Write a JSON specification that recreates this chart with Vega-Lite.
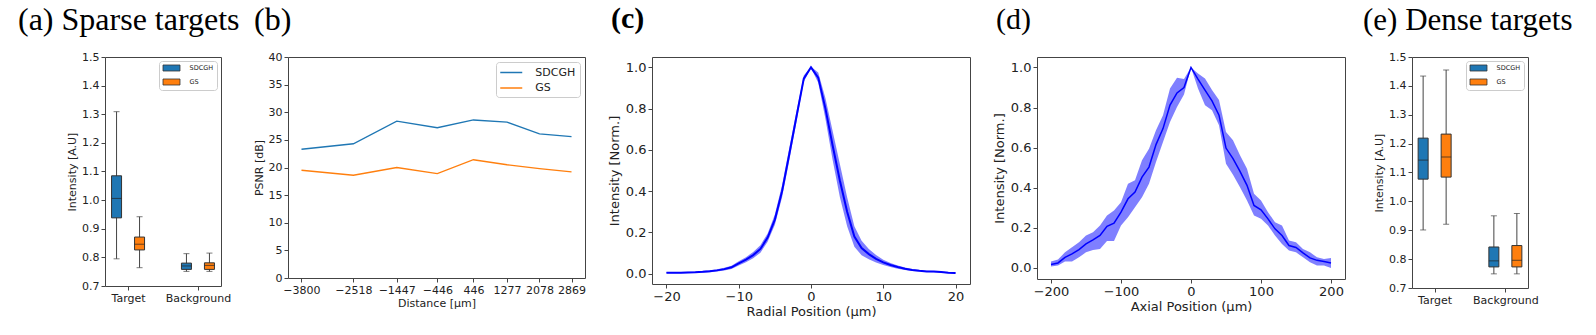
{
  "$schema": "https://vega.github.io/schema/vega-lite/v6.json",
  "padding": {"left": 17, "top": 3, "right": 0, "bottom": 0},
  "bounds": "flush",
  "spacing": 67,
  "resolve": {"scale": {"color": "independent", "x": "independent", "y": "independent"}, "legend": {"color": "independent"}},
  "config": {
    "font": "DejaVu Sans",
    "view": {"stroke": "#444", "strokeWidth": 1},
    "axis": {"domain": false, "grid": false, "tickColor": "#444", "tickSize": 4, "labelColor": "#222", "titleColor": "#222", "titleFontWeight": "normal", "labelPadding": 2, "labelFont": "DejaVu Sans", "titleFont": "DejaVu Sans", "labelOverlap": false},
    "title": {"font": "Liberation Serif", "fontWeight": "normal", "color": "#000", "anchor": "start", "frame": "group"}
  },
  "hconcat": [
    {
      "width": 116, "height": 229,
      "title": {"text": "(a) Sparse targets", "fontSize": 32, "dx": -87, "offset": 14},
      "data": {"values": [
        {"group": "Target", "method": "SDCGH", "lower": 0.795, "q1": 0.938, "median": 1.006, "q3": 1.085, "upper": 1.309},
        {"group": "Target", "method": "GS", "lower": 0.764, "q1": 0.826, "median": 0.846, "q3": 0.871, "upper": 0.942},
        {"group": "Background", "method": "SDCGH", "lower": 0.751, "q1": 0.758, "median": 0.770, "q3": 0.780, "upper": 0.813},
        {"group": "Background", "method": "GS", "lower": 0.751, "q1": 0.758, "median": 0.772, "q3": 0.781, "upper": 0.815}
      ]},
      "encoding": {
        "x": {"field": "group", "type": "nominal", "sort": ["Target", "Background"], "scale": {"type": "point", "padding": 0.33}, "axis": {"title": null, "labelAngle": 0, "labelFontSize": 11}},
        "xOffset": {"field": "method", "type": "nominal", "sort": ["SDCGH", "GS"], "scale": {"type": "point", "range": [-11.5, 11.5], "padding": 0}}
      },
      "layer": [
        {"mark": {"type": "rule", "color": "#444", "strokeWidth": 1},
         "encoding": {"y": {"field": "lower", "type": "quantitative", "title": "Intensity [A.U]", "scale": {"domain": [0.7, 1.5], "nice": false, "zero": false}, "axis": {"values": [0.7, 0.8, 0.9, 1.0, 1.1, 1.2, 1.3, 1.4, 1.5], "format": ".1f", "labelFontSize": 11, "titleFontSize": 11, "titlePadding": 4, "labelOverlap": false}}, "y2": {"field": "upper"}}},
        {"mark": {"type": "tick", "color": "#444", "size": 6, "thickness": 1},
         "encoding": {"y": {"field": "lower", "type": "quantitative", "title": "Intensity [A.U]", "axis": {"values": [0.7, 0.8, 0.9, 1.0, 1.1, 1.2, 1.3, 1.4, 1.5], "format": ".1f", "labelFontSize": 11, "titleFontSize": 11, "titlePadding": 4, "labelOverlap": false}}}},
        {"mark": {"type": "tick", "color": "#444", "size": 6, "thickness": 1},
         "encoding": {"y": {"field": "upper", "type": "quantitative", "title": "Intensity [A.U]", "axis": {"values": [0.7, 0.8, 0.9, 1.0, 1.1, 1.2, 1.3, 1.4, 1.5], "format": ".1f", "labelFontSize": 11, "titleFontSize": 11, "titlePadding": 4, "labelOverlap": false}}}},
        {"mark": {"type": "bar", "width": 10, "stroke": "#333", "strokeWidth": 1},
         "encoding": {"y": {"field": "q1", "type": "quantitative", "title": "Intensity [A.U]", "axis": {"values": [0.7, 0.8, 0.9, 1.0, 1.1, 1.2, 1.3, 1.4, 1.5], "format": ".1f", "labelFontSize": 11, "titleFontSize": 11, "titlePadding": 4, "labelOverlap": false}}, "y2": {"field": "q3"},
           "color": {"field": "method", "type": "nominal", "scale": {"domain": ["SDCGH", "GS"], "range": ["#1f77b4", "#ff7f0e"]},
             "legend": {"title": null, "orient": "top-right", "offset": 4, "padding": 3, "fillColor": "white", "strokeColor": "#ccc", "cornerRadius": 3, "symbolType": "M-2.4,-0.85L2.4,-0.85L2.4,0.85L-2.4,0.85Z", "symbolSize": 50, "symbolStrokeColor": "#333", "symbolStrokeWidth": 0.8, "symbolOpacity": 1, "symbolOffset": 5.5, "labelOffset": 14, "labelFontSize": 6.5, "labelColor": "#222", "rowPadding": 4}}}},
        {"mark": {"type": "tick", "color": "#222", "size": 10, "thickness": 1},
         "encoding": {"y": {"field": "median", "type": "quantitative", "title": "Intensity [A.U]", "axis": {"values": [0.7, 0.8, 0.9, 1.0, 1.1, 1.2, 1.3, 1.4, 1.5], "format": ".1f", "labelFontSize": 11, "titleFontSize": 11, "titlePadding": 4, "labelOverlap": false}}}}
      ]
    },
    {
      "width": 297, "height": 221,
      "title": {"text": "(b)", "fontSize": 32, "dx": -34, "offset": 14},
      "data": {"values": [
        {"d": -3800, "method": "SDCGH", "psnr": 23.3}, {"d": -2518, "method": "SDCGH", "psnr": 24.3},
        {"d": -1447, "method": "SDCGH", "psnr": 28.4}, {"d": -446, "method": "SDCGH", "psnr": 27.2},
        {"d": 446, "method": "SDCGH", "psnr": 28.6}, {"d": 1277, "method": "SDCGH", "psnr": 28.2},
        {"d": 2078, "method": "SDCGH", "psnr": 26.1}, {"d": 2869, "method": "SDCGH", "psnr": 25.6},
        {"d": -3800, "method": "GS", "psnr": 19.5}, {"d": -2518, "method": "GS", "psnr": 18.6},
        {"d": -1447, "method": "GS", "psnr": 20.0}, {"d": -446, "method": "GS", "psnr": 18.9},
        {"d": 446, "method": "GS", "psnr": 21.4}, {"d": 1277, "method": "GS", "psnr": 20.5},
        {"d": 2078, "method": "GS", "psnr": 19.8}, {"d": 2869, "method": "GS", "psnr": 19.2}
      ]},
      "mark": {"type": "line", "strokeWidth": 1.3},
      "encoding": {
        "x": {"field": "d", "type": "quantitative", "scale": {"domain": [-4133, 3202], "nice": false, "zero": false},
          "axis": {"values": [-3800, -2518, -1447, -446, 446, 1277, 2078, 2869], "format": "d", "title": "Distance [µm]", "labelFontSize": 11, "titleFontSize": 11, "titlePadding": 2, "labelFlush": false, "labelOverlap": false}},
        "y": {"field": "psnr", "type": "quantitative", "scale": {"domain": [0, 40], "nice": false},
          "axis": {"values": [0, 5, 10, 15, 20, 25, 30, 35, 40], "title": "PSNR [dB]", "labelFontSize": 11, "titleFontSize": 11, "titlePadding": 4}},
        "color": {"field": "method", "type": "nominal", "sort": ["SDCGH", "GS"], "scale": {"domain": ["SDCGH", "GS"], "range": ["#1f77b4", "#ff7f0e"]},
          "legend": {"title": null, "orient": "top-right", "offset": 5, "padding": 4, "fillColor": "white", "strokeColor": "#ccc", "cornerRadius": 3, "symbolType": "M-2,0L2,0", "symbolSize": 121, "symbolStrokeWidth": 1.5, "symbolOffset": 4.75, "labelOffset": 17.5, "labelFontSize": 11, "labelColor": "#222", "rowPadding": 3.5}}
      }
    },
    {
      "width": 318, "height": 227,
      "title": {"text": "(c)", "fontSize": 30, "fontWeight": "bold", "dx": -41, "offset": 23.5},
      "data": {"values": [
        {"r": -20, "m": 0.005, "lo": 0.002, "hi": 0.008}, {"r": -19, "m": 0.005, "lo": 0.002, "hi": 0.008},
        {"r": -18, "m": 0.005, "lo": 0.002, "hi": 0.008}, {"r": -17, "m": 0.006, "lo": 0.003, "hi": 0.009},
        {"r": -16, "m": 0.007, "lo": 0.004, "hi": 0.010}, {"r": -15, "m": 0.009, "lo": 0.005, "hi": 0.013},
        {"r": -14, "m": 0.012, "lo": 0.007, "hi": 0.017}, {"r": -13, "m": 0.016, "lo": 0.010, "hi": 0.022},
        {"r": -12, "m": 0.022, "lo": 0.015, "hi": 0.029}, {"r": -11, "m": 0.031, "lo": 0.023, "hi": 0.039},
        {"r": -10, "m": 0.050, "lo": 0.040, "hi": 0.060}, {"r": -9, "m": 0.068, "lo": 0.056, "hi": 0.080},
        {"r": -8, "m": 0.090, "lo": 0.075, "hi": 0.105}, {"r": -7, "m": 0.120, "lo": 0.102, "hi": 0.138},
        {"r": -6, "m": 0.175, "lo": 0.155, "hi": 0.195}, {"r": -5, "m": 0.262, "lo": 0.237, "hi": 0.287},
        {"r": -4, "m": 0.400, "lo": 0.370, "hi": 0.430}, {"r": -3, "m": 0.580, "lo": 0.550, "hi": 0.610},
        {"r": -2, "m": 0.763, "lo": 0.738, "hi": 0.788}, {"r": -1, "m": 0.945, "lo": 0.930, "hi": 0.960},
        {"r": 0, "m": 1.000, "lo": 0.997, "hi": 1.003}, {"r": 1, "m": 0.950, "lo": 0.925, "hi": 0.975},
        {"r": 2, "m": 0.800, "lo": 0.750, "hi": 0.850}, {"r": 3, "m": 0.620, "lo": 0.550, "hi": 0.690},
        {"r": 4, "m": 0.450, "lo": 0.370, "hi": 0.530}, {"r": 5, "m": 0.300, "lo": 0.230, "hi": 0.370},
        {"r": 6, "m": 0.180, "lo": 0.130, "hi": 0.230}, {"r": 7, "m": 0.124, "lo": 0.089, "hi": 0.159},
        {"r": 8, "m": 0.095, "lo": 0.070, "hi": 0.120}, {"r": 9, "m": 0.072, "lo": 0.054, "hi": 0.090},
        {"r": 10, "m": 0.055, "lo": 0.042, "hi": 0.068}, {"r": 11, "m": 0.042, "lo": 0.032, "hi": 0.052},
        {"r": 12, "m": 0.032, "lo": 0.024, "hi": 0.040}, {"r": 13, "m": 0.024, "lo": 0.018, "hi": 0.030},
        {"r": 14, "m": 0.018, "lo": 0.013, "hi": 0.023}, {"r": 15, "m": 0.014, "lo": 0.010, "hi": 0.018},
        {"r": 16, "m": 0.011, "lo": 0.008, "hi": 0.014}, {"r": 17, "m": 0.010, "lo": 0.007, "hi": 0.013},
        {"r": 18, "m": 0.008, "lo": 0.005, "hi": 0.011}, {"r": 19, "m": 0.005, "lo": 0.002, "hi": 0.008},
        {"r": 20, "m": 0.003, "lo": 0.000, "hi": 0.006}
      ]},
      "encoding": {
        "x": {"field": "r", "type": "quantitative", "scale": {"domain": [-22, 22], "nice": false, "zero": false},
          "axis": {"values": [-20, -10, 0, 10, 20], "title": "Radial Position (µm)", "labelFontSize": 13, "titleFontSize": 13, "titlePadding": 2, "labelFlush": false}}
      },
      "layer": [
        {"mark": {"type": "area", "color": "#0000ff", "opacity": 0.5},
         "encoding": {"y": {"field": "lo", "type": "quantitative", "title": "Intensity [Norm.]", "scale": {"domain": [-0.05, 1.05], "nice": false, "zero": false},
           "axis": {"values": [0, 0.2, 0.4, 0.6, 0.8, 1.0], "format": ".1f", "labelFontSize": 13, "titleFontSize": 13, "titlePadding": 4}}, "y2": {"field": "hi"}}},
        {"mark": {"type": "line", "color": "#0000ff", "strokeWidth": 2},
         "encoding": {"y": {"field": "m", "type": "quantitative", "title": "Intensity [Norm.]", "axis": {"values": [0, 0.2, 0.4, 0.6, 0.8, 1.0], "format": ".1f", "labelFontSize": 13, "titleFontSize": 13, "titlePadding": 4}}}}
      ]
    },
    {
      "width": 308, "height": 222,
      "title": {"text": "(d)", "fontSize": 30, "dx": -41, "offset": 22.5},
      "data": {"values": [
        {"a": -200, "m": 0.017, "lo": 0.007, "hi": 0.032}, {"a": -190, "m": 0.025, "lo": 0.012, "hi": 0.042},
        {"a": -180, "m": 0.053, "lo": 0.032, "hi": 0.078}, {"a": -170, "m": 0.070, "lo": 0.032, "hi": 0.103},
        {"a": -160, "m": 0.092, "lo": 0.053, "hi": 0.128}, {"a": -150, "m": 0.120, "lo": 0.078, "hi": 0.162},
        {"a": -140, "m": 0.140, "lo": 0.090, "hi": 0.178}, {"a": -130, "m": 0.162, "lo": 0.095, "hi": 0.212},
        {"a": -120, "m": 0.208, "lo": 0.135, "hi": 0.262}, {"a": -110, "m": 0.223, "lo": 0.135, "hi": 0.287},
        {"a": -100, "m": 0.278, "lo": 0.212, "hi": 0.328}, {"a": -90, "m": 0.345, "lo": 0.253, "hi": 0.420},
        {"a": -80, "m": 0.378, "lo": 0.303, "hi": 0.437}, {"a": -70, "m": 0.453, "lo": 0.353, "hi": 0.537},
        {"a": -60, "m": 0.503, "lo": 0.420, "hi": 0.595}, {"a": -50, "m": 0.615, "lo": 0.528, "hi": 0.687},
        {"a": -40, "m": 0.695, "lo": 0.628, "hi": 0.762}, {"a": -30, "m": 0.812, "lo": 0.728, "hi": 0.895},
        {"a": -20, "m": 0.873, "lo": 0.803, "hi": 0.948}, {"a": -10, "m": 0.900, "lo": 0.865, "hi": 0.942},
        {"a": 0, "m": 1.000, "lo": 1.000, "hi": 1.000}, {"a": 10, "m": 0.942, "lo": 0.895, "hi": 0.970},
        {"a": 20, "m": 0.887, "lo": 0.812, "hi": 0.945}, {"a": 30, "m": 0.833, "lo": 0.787, "hi": 0.887},
        {"a": 40, "m": 0.762, "lo": 0.712, "hi": 0.837}, {"a": 50, "m": 0.598, "lo": 0.520, "hi": 0.678},
        {"a": 60, "m": 0.545, "lo": 0.465, "hi": 0.637}, {"a": 70, "m": 0.482, "lo": 0.403, "hi": 0.562},
        {"a": 80, "m": 0.412, "lo": 0.337, "hi": 0.495}, {"a": 90, "m": 0.312, "lo": 0.262, "hi": 0.370},
        {"a": 100, "m": 0.290, "lo": 0.245, "hi": 0.337}, {"a": 110, "m": 0.245, "lo": 0.212, "hi": 0.278},
        {"a": 120, "m": 0.195, "lo": 0.162, "hi": 0.228}, {"a": 130, "m": 0.162, "lo": 0.120, "hi": 0.212},
        {"a": 140, "m": 0.112, "lo": 0.087, "hi": 0.137}, {"a": 150, "m": 0.102, "lo": 0.078, "hi": 0.128},
        {"a": 160, "m": 0.075, "lo": 0.053, "hi": 0.095}, {"a": 170, "m": 0.050, "lo": 0.028, "hi": 0.078},
        {"a": 180, "m": 0.038, "lo": 0.012, "hi": 0.053}, {"a": 190, "m": 0.032, "lo": 0.012, "hi": 0.045},
        {"a": 200, "m": 0.025, "lo": 0.000, "hi": 0.050}
      ]},
      "encoding": {
        "x": {"field": "a", "type": "quantitative", "scale": {"domain": [-220, 220], "nice": false, "zero": false},
          "axis": {"values": [-200, -100, 0, 100, 200], "title": "Axial Position (µm)", "labelFontSize": 13, "titleFontSize": 13, "titlePadding": 2, "labelFlush": false}}
      },
      "layer": [
        {"mark": {"type": "area", "color": "#0000ff", "opacity": 0.5},
         "encoding": {"y": {"field": "lo", "type": "quantitative", "title": "Intensity [Norm.]", "scale": {"domain": [-0.055, 1.052], "nice": false, "zero": false},
           "axis": {"values": [0, 0.2, 0.4, 0.6, 0.8, 1.0], "format": ".1f", "labelFontSize": 13, "titleFontSize": 13, "titlePadding": 4}}, "y2": {"field": "hi"}}},
        {"mark": {"type": "line", "color": "#0000ff", "strokeWidth": 1.5},
         "encoding": {"y": {"field": "m", "type": "quantitative", "title": "Intensity [Norm.]", "axis": {"values": [0, 0.2, 0.4, 0.6, 0.8, 1.0], "format": ".1f", "labelFontSize": 13, "titleFontSize": 13, "titlePadding": 4}}}}
      ]
    },
    {
      "width": 116, "height": 231,
      "title": {"text": "(e) Dense targets", "fontSize": 31, "dx": -49, "offset": 14},
      "data": {"values": [
        {"group": "Target", "method": "SDCGH", "lower": 0.901, "q1": 1.077, "median": 1.143, "q3": 1.219, "upper": 1.434},
        {"group": "Target", "method": "GS", "lower": 0.921, "q1": 1.084, "median": 1.154, "q3": 1.233, "upper": 1.455},
        {"group": "Background", "method": "SDCGH", "lower": 0.749, "q1": 0.773, "median": 0.794, "q3": 0.842, "upper": 0.950},
        {"group": "Background", "method": "GS", "lower": 0.749, "q1": 0.773, "median": 0.796, "q3": 0.847, "upper": 0.958}
      ]},
      "encoding": {
        "x": {"field": "group", "type": "nominal", "sort": ["Target", "Background"], "scale": {"type": "point", "padding": 0.32}, "axis": {"title": null, "labelAngle": 0, "labelFontSize": 11}},
        "xOffset": {"field": "method", "type": "nominal", "sort": ["SDCGH", "GS"], "scale": {"type": "point", "range": [-11.5, 11.5], "padding": 0}}
      },
      "layer": [
        {"mark": {"type": "rule", "color": "#444", "strokeWidth": 1},
         "encoding": {"y": {"field": "lower", "type": "quantitative", "title": "Intensity [A.U]", "scale": {"domain": [0.7, 1.5], "nice": false, "zero": false}, "axis": {"values": [0.7, 0.8, 0.9, 1.0, 1.1, 1.2, 1.3, 1.4, 1.5], "format": ".1f", "labelFontSize": 11, "titleFontSize": 11, "titlePadding": 4, "labelOverlap": false}}, "y2": {"field": "upper"}}},
        {"mark": {"type": "tick", "color": "#444", "size": 6, "thickness": 1},
         "encoding": {"y": {"field": "lower", "type": "quantitative", "title": "Intensity [A.U]", "axis": {"values": [0.7, 0.8, 0.9, 1.0, 1.1, 1.2, 1.3, 1.4, 1.5], "format": ".1f", "labelFontSize": 11, "titleFontSize": 11, "titlePadding": 4, "labelOverlap": false}}}},
        {"mark": {"type": "tick", "color": "#444", "size": 6, "thickness": 1},
         "encoding": {"y": {"field": "upper", "type": "quantitative", "title": "Intensity [A.U]", "axis": {"values": [0.7, 0.8, 0.9, 1.0, 1.1, 1.2, 1.3, 1.4, 1.5], "format": ".1f", "labelFontSize": 11, "titleFontSize": 11, "titlePadding": 4, "labelOverlap": false}}}},
        {"mark": {"type": "bar", "width": 10, "stroke": "#333", "strokeWidth": 1},
         "encoding": {"y": {"field": "q1", "type": "quantitative", "title": "Intensity [A.U]", "axis": {"values": [0.7, 0.8, 0.9, 1.0, 1.1, 1.2, 1.3, 1.4, 1.5], "format": ".1f", "labelFontSize": 11, "titleFontSize": 11, "titlePadding": 4, "labelOverlap": false}}, "y2": {"field": "q3"},
           "color": {"field": "method", "type": "nominal", "scale": {"domain": ["SDCGH", "GS"], "range": ["#1f77b4", "#ff7f0e"]},
             "legend": {"title": null, "orient": "top-right", "offset": 4, "padding": 3, "fillColor": "white", "strokeColor": "#ccc", "cornerRadius": 3, "symbolType": "M-2.4,-0.85L2.4,-0.85L2.4,0.85L-2.4,0.85Z", "symbolSize": 50, "symbolStrokeColor": "#333", "symbolStrokeWidth": 0.8, "symbolOpacity": 1, "symbolOffset": 5.5, "labelOffset": 14, "labelFontSize": 6.5, "labelColor": "#222", "rowPadding": 4}}}},
        {"mark": {"type": "tick", "color": "#222", "size": 10, "thickness": 1},
         "encoding": {"y": {"field": "median", "type": "quantitative", "title": "Intensity [A.U]", "axis": {"values": [0.7, 0.8, 0.9, 1.0, 1.1, 1.2, 1.3, 1.4, 1.5], "format": ".1f", "labelFontSize": 11, "titleFontSize": 11, "titlePadding": 4, "labelOverlap": false}}}}
      ]
    }
  ]
}
